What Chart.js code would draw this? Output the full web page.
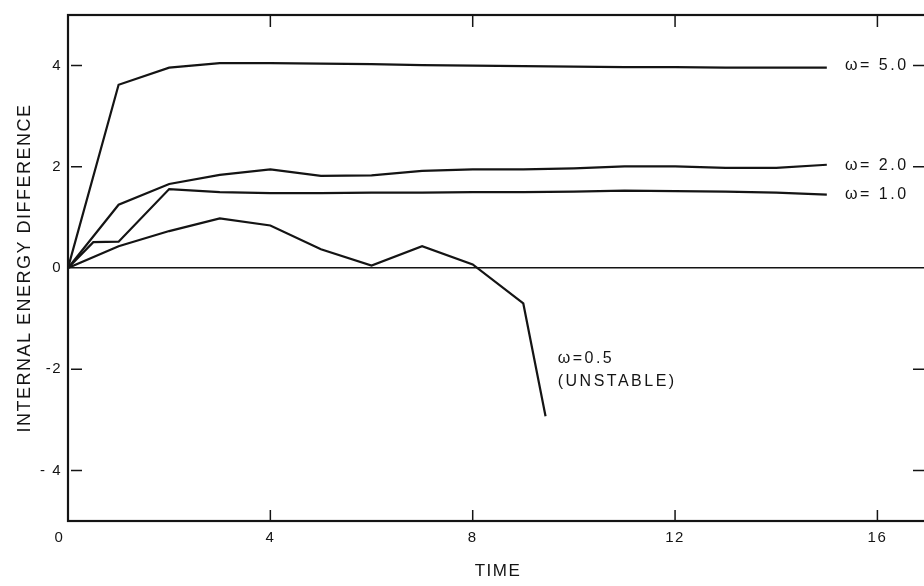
<!DOCTYPE html>
<html>
<head>
<meta charset="utf-8">
<script src="https://cdn.jsdelivr.net/npm/chart.js@4"></script>
<style>
  html, body { margin: 0; padding: 0; background: #fff; overflow: hidden; }
  #wrap { width: 940px; height: 586px; }
</style>
</head>
<body>
<div id="wrap"><canvas id="c" width="940" height="586"></canvas></div>
<script>
// ---- data ----
const w5Time = [0, 1, 2, 3, 4, 5, 6, 7, 8, 9, 10, 11, 12, 13, 14, 15];
const w5Vals = [0, 3.62, 3.96, 4.05, 4.05, 4.04, 4.03, 4.01, 4.0, 3.99, 3.98, 3.97, 3.97, 3.96, 3.96, 3.96];

const w2Time = [0, 1, 2, 3, 4, 5, 6, 7, 8, 9, 10, 11, 12, 13, 14, 15];
const w2Vals = [0, 1.25, 1.66, 1.84, 1.95, 1.82, 1.83, 1.92, 1.95, 1.95, 1.97, 2.01, 2.01, 1.98, 1.98, 2.04];

const w1Time = [0, 0.5, 1, 2, 3, 4, 5, 6, 7, 8, 9, 10, 11, 12, 13, 14, 15];
const w1Vals = [0, 0.51, 0.52, 1.56, 1.5, 1.48, 1.48, 1.49, 1.49, 1.5, 1.5, 1.51, 1.53, 1.52, 1.51, 1.49, 1.45];

const w05Time = [0, 1, 2, 3, 4, 5, 6, 7, 8, 9, 9.44];
const w05Vals = [0, 0.43, 0.73, 0.98, 0.84, 0.37, 0.05, 0.43, 0.07, -0.70, -2.93];

const seriesNames = ['ω= 5.0', 'ω= 2.0', 'ω= 1.0', 'ω=0.5'];

const xTickVals = [0, 4, 8, 12, 16];
const xTickLabels = ['0   ', '4', '8', '12', '16'];
const yTickVals = [-4, -2, 0, 2, 4];
const yTickLabels = ['- 4', '-2', '0', '2', '4'];

const xTitle = 'TIME';
const yTitle = 'INTERNAL ENERGY DIFFERENCE';

// ---- build datasets ----
function pts(t, v) { return t.map((x, i) => ({ x: x, y: v[i] })); }
const INK = '#141414';
function ds(label, t, v) {
  return { label, data: pts(t, v), borderColor: INK, borderWidth: 2.2, pointRadius: 0, tension: 0, fill: false };
}

const annotations = [
  { text: seriesNames[0], x: 15.36, y: 4.0 },
  { text: seriesNames[1], x: 15.36, y: 2.03 },
  { text: seriesNames[2], x: 15.36, y: 1.46 },
  { text: seriesNames[3], x: 9.68, y: -1.8 },
  { text: '(UNSTABLE)', x: 9.68, y: -2.25 }
];

const framePlugin = {
  id: 'frame',
  beforeDraw(chart) {
    const ctx = chart.ctx;
    ctx.save();
    ctx.fillStyle = '#fff';
    ctx.fillRect(0, 0, chart.width, chart.height);
    ctx.restore();
    try { ctx.letterSpacing = '1.5px'; } catch (e) {}
  },
  afterDraw(chart) {
    const ctx = chart.ctx;
    const a = chart.chartArea;
    const xs = chart.scales.x, ys = chart.scales.y;
    ctx.save();
    ctx.strokeStyle = INK;
    ctx.lineWidth = 2.2;
    ctx.strokeRect(a.left, a.top, a.right - a.left, a.bottom - a.top);
    ctx.beginPath();
    xTickVals.forEach(v => {
      if (v === 0) return;
      const px = xs.getPixelForValue(v);
      ctx.moveTo(px, a.bottom); ctx.lineTo(px, a.bottom - 11);
      ctx.moveTo(px, a.top); ctx.lineTo(px, a.top + 12);
    });
    yTickVals.forEach(v => {
      if (v === 0) return;
      const py = ys.getPixelForValue(v);
      ctx.moveTo(a.left + 3, py); ctx.lineTo(a.left + 14, py);
      ctx.moveTo(a.right - 15, py); ctx.lineTo(a.right, py);
    });
    ctx.lineWidth = 1.5;
    ctx.stroke();

    try { ctx.letterSpacing = '2.5px'; } catch (e) {}
    ctx.fillStyle = INK;
    ctx.font = '16px "Liberation Sans", Arial, sans-serif';
    ctx.textAlign = 'left';
    ctx.textBaseline = 'middle';
    annotations.forEach(an => {
      ctx.fillText(an.text, xs.getPixelForValue(an.x), ys.getPixelForValue(an.y));
    });
    ctx.restore();
  }
};

new Chart(document.getElementById('c'), {
  type: 'line',
  data: {
    datasets: [
      ds(seriesNames[0], w5Time, w5Vals),
      ds(seriesNames[1], w2Time, w2Vals),
      ds(seriesNames[2], w1Time, w1Vals),
      ds(seriesNames[3], w05Time, w05Vals)
    ]
  },
  options: {
    responsive: false,
    animation: false,
    events: [],
    layout: { padding: { left: 0, right: 12, top: 13, bottom: 0 } },
    plugins: { legend: { display: false }, tooltip: { enabled: false } },
    scales: {
      x: {
        type: 'linear',
        min: 0, max: 17,
        afterBuildTicks: s => { s.ticks = xTickVals.map(v => ({ value: v })); },
        afterFit: s => { s.height = 65; },
        grid: { display: false, drawTicks: false },
        border: { display: false },
        ticks: {
          autoSkip: false, maxRotation: 0, padding: 8,
          color: INK,
          font: { family: '"Liberation Sans", Arial, sans-serif', size: 15 },
          callback: (v) => { const i = xTickVals.indexOf(v); return i >= 0 ? xTickLabels[i] : ''; }
        },
        title: {
          display: true, text: xTitle, color: INK,
          font: { family: '"Liberation Sans", Arial, sans-serif', size: 17 },
          padding: { top: 0, bottom: 4 }
        }
      },
      y: {
        type: 'linear',
        min: -5, max: 5,
        afterBuildTicks: s => { s.ticks = yTickVals.map(v => ({ value: v })); },
        afterFit: s => { s.width = 68; },
        grid: {
          drawTicks: false,
          color: c => (c.tick && c.tick.value === 0) ? INK : 'rgba(0,0,0,0)',
          lineWidth: 1.5
        },
        border: { display: false },
        ticks: {
          autoSkip: false, padding: 6,
          color: INK,
          font: { family: '"Liberation Sans", Arial, sans-serif', size: 15 },
          callback: (v) => { const i = yTickVals.indexOf(v); return i >= 0 ? yTickLabels[i] : ''; }
        },
        title: {
          display: true, text: yTitle, color: INK,
          font: { family: '"Liberation Sans", Arial, sans-serif', size: 18 },
          padding: { top: 14, bottom: 0 }
        }
      }
    }
  },
  plugins: [framePlugin]
});
</script>
</body>
</html>
